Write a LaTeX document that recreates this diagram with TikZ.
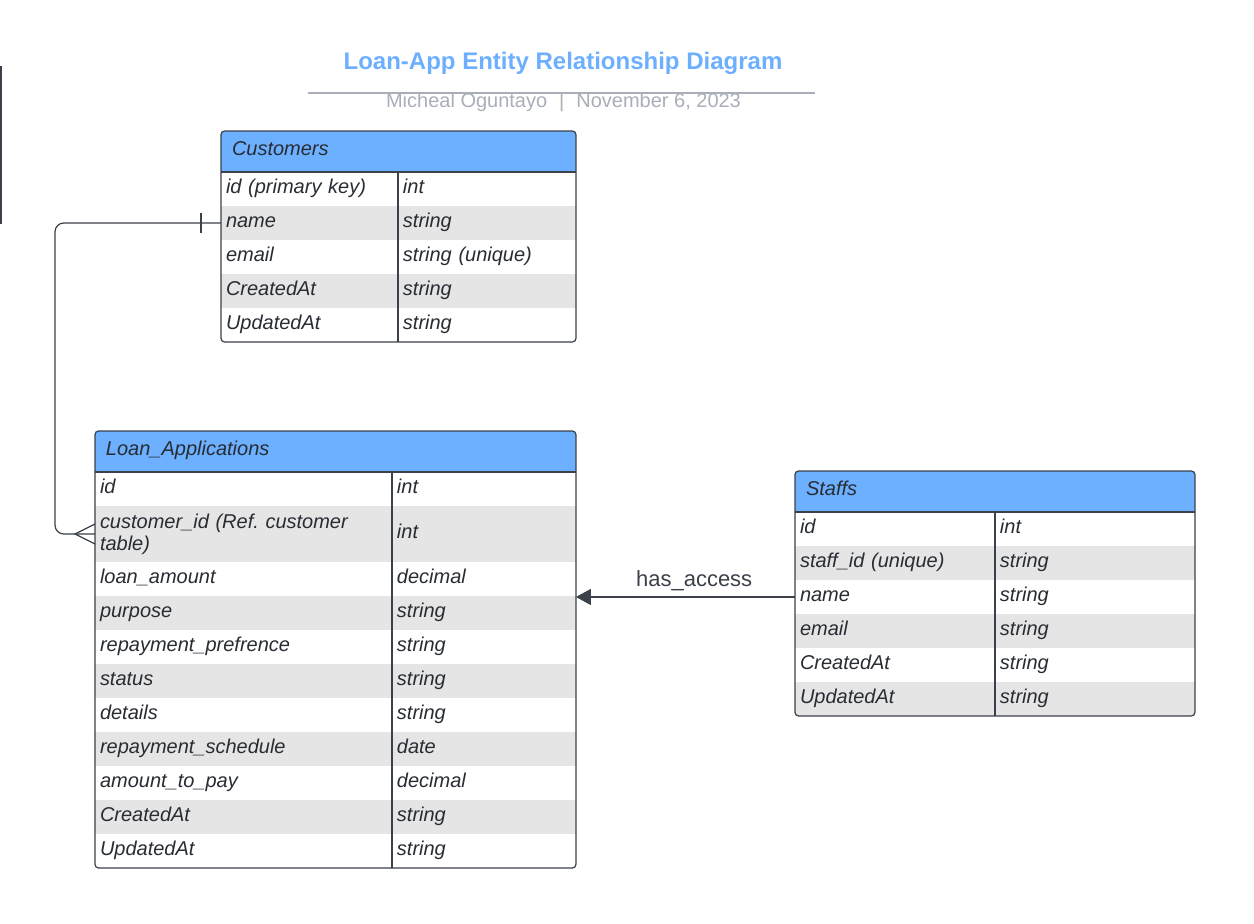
\documentclass[tikz,border=0pt]{standalone}
\usepackage{fontspec}
\setmainfont{Liberation Sans}
\usetikzlibrary{positioning,arrows.meta}
\frenchspacing

\definecolor{hdrblue}{HTML}{6CB0FF}
\definecolor{rowgray}{HTML}{E5E5E5}
\definecolor{titleblue}{HTML}{6DAFFF}
\definecolor{subgray}{HTML}{A9AEB8}
\definecolor{inkdark}{HTML}{3A414A}
\definecolor{textdark}{HTML}{282C33}

\begin{document}
\begin{tikzpicture}[x=0.02cm,y=-0.02cm,
    every node/.style={font=\fontsize{11.38}{12.5}\selectfont\itshape,text=textdark},
    hdr/.style={fill=hdrblue,anchor=north west,inner xsep=0.22cm,inner ysep=0pt,outer sep=0pt,
      minimum height=0.82cm,align=left,execute at begin node=\strut},
    cell/.style={anchor=north west,inner xsep=0.1cm,inner ysep=0pt,outer sep=0pt,align=left,
      execute at begin node=\strut},
    tbl/.style={draw=inkdark,line width=0.7pt,rounded corners=2pt},
    rel/.style={draw=inkdark,line width=0.7pt}]
  \useasboundingbox (0,0) rectangle (1254,923);

  % title
  \node[font=\fontsize{13.66}{16}\selectfont\bfseries,text=titleblue,anchor=base] (title) at (563,69.5)
    {Loan-App Entity Relationship Diagram};
  \draw[subgray,line width=1pt] (308,93) -- (815,93);
  \node[font=\fontsize{11.38}{13}\selectfont,text=subgray,anchor=base] (byline) at (563.5,107)
    {Micheal Oguntayo\hspace{0.6em}|\hspace{0.6em}November 6, 2023};
  \draw[inkdark,line width=1.2pt] (1,66) -- (1,224);

  % customers
  \begin{scope}
    \clip[rounded corners=2pt] (221,131) rectangle (576,342);
    \node[hdr,text width=6.66cm] (cus-0) at (221,131) {Customers};
    \foreach \i/\fld/\typ/\sh [remember=\i as \prev (initially 0)] in
      {1/id (primary key)/int/white, 2/name/string/rowgray, 3/email/string (unique)/white,
       4/CreatedAt/string/rowgray, 5/UpdatedAt/string/white} {
      \node[cell,fill=\sh,minimum height=0.68cm,text width=3.34cm] (cus-\i) at (cus-\prev.south west) {\fld};
      \node[cell,fill=\sh,minimum height=0.68cm,text width=3.36cm,right=0pt of cus-\i] (cus-\i-t) {\typ};
    }
  \end{scope}
  \draw[tbl] (cus-0.north west) rectangle (cus-5-t.south east);
  \draw[rel] (cus-0.south west) -- (cus-0.south east);
  \draw[rel] (cus-1-t.north west) -- (cus-5-t.south west);

  % loan applications
  \begin{scope}
    \clip[rounded corners=2pt] (95,431) rectangle (576,868);
    \node[hdr,text width=9.18cm] (la-0) at (95,431) {Loan\_Applications};
    \foreach \i/\h/\fld/\typ/\sh [remember=\i as \prev (initially 0)] in
      {1/34/id/int/white, 2/56/{customer\_id (Ref. customer\\table)}/int/rowgray,
       3/34/loan\_amount/decimal/white, 4/34/purpose/string/rowgray,
       5/34/repayment\_prefrence/string/white, 6/34/status/string/rowgray,
       7/34/details/string/white, 8/34/repayment\_schedule/date/rowgray,
       9/34/amount\_to\_pay/decimal/white, 10/34/CreatedAt/string/rowgray,
       11/34/UpdatedAt/string/white} {
      \node[cell,fill=\sh,minimum height=\h*0.02cm,text width=5.74cm] (la-\i) at (la-\prev.south west) {\fld};
      \node[cell,fill=\sh,minimum height=\h*0.02cm,text width=3.48cm,right=0pt of la-\i] (la-\i-t) {\typ};
    }
  \end{scope}
  \draw[tbl] (la-0.north west) rectangle (la-11-t.south east);
  \draw[rel] (la-0.south west) -- (la-0.south east);
  \draw[rel] (la-1-t.north west) -- (la-11-t.south west);

  % staffs
  \begin{scope}
    \clip[rounded corners=2pt] (795,471) rectangle (1195,716);
    \node[hdr,text width=7.56cm] (sta-0) at (795,471) {Staffs};
    \foreach \i/\fld/\typ/\sh [remember=\i as \prev (initially 0)] in
      {1/id/int/white, 2/staff\_id (unique)/string/rowgray, 3/name/string/white,
       4/email/string/rowgray, 5/CreatedAt/string/white, 6/UpdatedAt/string/rowgray} {
      \node[cell,fill=\sh,minimum height=0.68cm,text width=3.8cm] (sta-\i) at (sta-\prev.south west) {\fld};
      \node[cell,fill=\sh,minimum height=0.68cm,text width=3.8cm,right=0pt of sta-\i] (sta-\i-t) {\typ};
    }
  \end{scope}
  \draw[tbl] (sta-0.north west) rectangle (sta-6-t.south east);
  \draw[rel] (sta-0.south west) -- (sta-0.south east);
  \draw[rel] (sta-1-t.north west) -- (sta-6-t.south west);

  % customer one-to-many loan applications
  \draw[rel,rounded corners=5pt] (cus-2.west) -- ++(-166,0) |- (la-2.west);
  \draw[rel] ([shift={(-20,-10)}]cus-2.west) -- ([shift={(-20,10)}]cus-2.west);
  \draw[rel] ([shift={(0,-10)}]la-2.west) -- ([shift={(-20,0)}]la-2.west) -- ([shift={(0,10)}]la-2.west);

  % staff access
  \draw[rel,-{Triangle[length=0.3cm,width=0.32cm]}] (sta-3.west) -- (sta-3.west -| la-1-t.east)
    node[pos=0.46,anchor=base,yshift=0.2cm,font=\fontsize{12.5}{15}\selectfont,text=inkdark] (access) {has\_access};
\end{tikzpicture}
\end{document}
